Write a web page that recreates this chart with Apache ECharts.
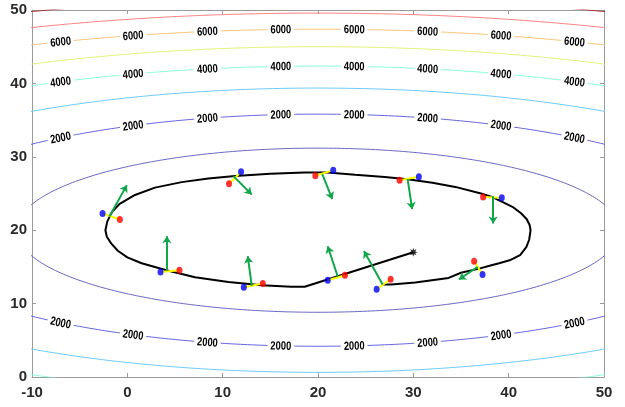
<!DOCTYPE html>
<html><head><meta charset="utf-8">
<script src="https://cdn.jsdelivr.net/npm/echarts@6/dist/echarts.min.js"></script>
<style>html,body{margin:0;padding:0;background:#fff}#c{width:625px;height:407px}</style>
</head><body><div id="c"></div>
<script>
// ---- data ----
const xRange = [-10, 50];
const yRange = [0, 50];
const tickStep = 10;

// contour field: level = (x-cx)^2 + w*(y-cy)^2
const contourCenter = [20, 20];
const contourYWeight = 8;
const contourLevels = [1000, 2000, 3000, 4000, 5000, 6000, 7000, 8000];
const contourColors = ['#6666c4', '#6464e2', '#6ccaff', '#88ffd8', '#e4f27c', '#ffc47c', '#ff8282', '#a83434'];

const labelX = [-7.0, 0.6, 8.4, 16.1, 23.8, 31.5, 39.2, 46.9];
const topLabelLevels = [2000, 4000, 6000];
const bottomLabelLevels = [2000];

const trajectory = [
  [30, 17], [18.6, 12.3], [17.2, 12.3], [14.1, 12.5], [10.6, 12.95], [7.1, 13.6], [4.1, 14.55],
  [1.5, 15.5], [0, 16.3], [-1, 17.2], [-1.7, 18.2], [-2.15, 19.1], [-2.3, 20.0], [-2.1, 21.2],
  [-1.6, 22.5], [-0.8, 23.6], [0.8, 24.8], [2.9, 25.8], [5.7, 26.55], [8.5, 27.05], [11.3, 27.4],
  [15, 27.7], [18.6, 27.85], [21, 27.85], [23.9, 27.55], [27, 27.25], [29.4, 26.95], [32, 26.45],
  [34.4, 25.9], [37.1, 25.0], [38.4, 24.45], [39.6, 23.7], [40.5, 23.1], [41.3, 22.3], [41.9, 21.5],
  [42.2, 20.7], [42.3, 20.0], [42.15, 18.7], [41.85, 17.7], [41.2, 16.6], [40.1, 15.9], [39, 15.5],
  [38, 15.15], [37, 14.8], [35, 14.2], [33.7, 13.5], [30.2, 12.87], [27.7, 12.6], [26.8, 12.6]
];
const startPoint = [30, 17];

const bluePoints = [
  [-2.60, 22.28], [3.48, 14.32], [12.22, 12.23], [11.93, 27.95], [21.60, 28.18],
  [30.58, 27.27], [39.28, 24.41], [37.26, 13.96], [21.02, 13.19], [26.15, 11.96]
];
const redPoints = [
  [-0.78, 21.46], [5.47, 14.55], [14.21, 12.74], [10.67, 26.32], [19.72, 27.41],
  [28.56, 26.82], [37.32, 24.54], [36.38, 15.78], [22.83, 13.87], [27.62, 13.32]
];
const arrowStart = [
  [-1.90, 21.84], [4.15, 14.55], [13.05, 12.41], [11.13, 27.37], [20.45, 27.64],
  [29.40, 26.96], [38.37, 24.64], [36.74, 15.0], [22.07, 13.69], [26.78, 12.60]
];
const arrowEnd = [
  [-0.05, 26.14], [4.15, 19.18], [12.63, 16.46], [13.05, 24.87], [21.50, 24.23],
  [29.88, 22.87], [38.37, 20.92], [34.78, 13.28], [21.02, 17.82], [24.82, 17.18]
];

// ---- helpers ----
const FONT = '"Liberation Sans", Arial, sans-serif';
function ellipse(level) {
  const rx = Math.sqrt(level), ry = Math.sqrt(level / contourYWeight);
  const pts = [];
  for (let i = 0; i <= 720; i++) {
    const t = i / 720 * 2 * Math.PI;
    pts.push([contourCenter[0] + rx * Math.cos(t), contourCenter[1] + ry * Math.sin(t)]);
  }
  return pts;
}
function levelY(level, x, sign) {
  const dx = x - contourCenter[0];
  return contourCenter[1] + sign * Math.sqrt((level - dx * dx) / contourYWeight);
}

const chart = echarts.init(document.getElementById('c'), null, {renderer: 'canvas'});

const axisCommon = {
  interval: tickStep,
  axisLine: {show: true, onZero: false, lineStyle: {color: '#9a9a9a', width: 1}},
  axisTick: {show: true, inside: true, length: 4, lineStyle: {color: '#9a9a9a'}},
  splitLine: {show: false}
};

const series = [];
contourLevels.forEach((lv, i) => {
  series.push({
    type: 'line', data: ellipse(lv), showSymbol: false, symbol: 'none', clip: true,
    lineStyle: {color: contourColors[i], width: 1}, z: 1, silent: true
  });
});

// contour labels: [x, y, level, sign]
const labelItems = [];
topLabelLevels.forEach(lv => labelX.forEach(x => labelItems.push([x, levelY(lv, x, 1), lv, 1])));
bottomLabelLevels.forEach(lv => labelX.forEach(x => labelItems.push([x, levelY(lv, x, -1), lv, -1])));

series.push({
  type: 'custom', z: 3, silent: true, data: labelItems,
  renderItem: function (params, api) {
    const x = api.value(0), y = api.value(1), lv = api.value(2), sg = api.value(3);
    const eps = 0.5;
    const p = api.coord([x, y]);
    const p1 = api.coord([x - eps, levelY(lv, x - eps, sg)]);
    const p2 = api.coord([x + eps, levelY(lv, x + eps, sg)]);
    const rot = Math.atan2(-(p2[1] - p1[1]), p2[0] - p1[0]);
    return {
      type: 'group', x: p[0], y: p[1], rotation: rot, scaleX: 0.78,
      children: [
        {type: 'rect', shape: {x: -17, y: -5.5, width: 34, height: 11}, style: {fill: '#fff'}},
        {type: 'text', style: {text: String(lv), x: 0, y: 0.5, align: 'center', verticalAlign: 'middle',
          font: 'bold 12px "Liberation Sans", Arial, sans-serif', fill: '#000'}}
      ]
    };
  }
});

series.push({
  type: 'line', data: trajectory, showSymbol: false, symbol: 'none', z: 4,
  lineStyle: {color: '#000', width: 2}, silent: true
});
series.push({
  type: 'lines', coordinateSystem: 'cartesian2d', z: 5, silent: true,
  data: bluePoints.map((b, i) => ({coords: [b, redPoints[i]]})),
  lineStyle: {color: '#ffff00', width: 2, opacity: 1}
});
series.push({
  type: 'scatter', data: bluePoints, symbol: 'circle', symbolSize: [6, 7], z: 6,
  itemStyle: {color: '#0000ff'}, silent: true
});
series.push({
  type: 'scatter', data: redPoints, symbol: 'circle', symbolSize: [6, 7], z: 6,
  itemStyle: {color: '#ff0000'}, silent: true
});
series.push({
  type: 'lines', coordinateSystem: 'cartesian2d', z: 7, silent: true,
  symbol: ['none', 'arrow'], symbolSize: [5, 7],
  data: arrowStart.map((s, i) => ({coords: [s, arrowEnd[i]]})),
  lineStyle: {color: '#12a64a', width: 2, opacity: 1}
});
series.push({
  type: 'scatter', data: [startPoint], z: 8, silent: true, symbolSize: 9,
  symbol: 'path://M0,-5 L0.9,-2.2 L3.5,-3.5 L2.2,-0.9 L5,0 L2.2,0.9 L3.5,3.5 L0.9,2.2 L0,5 L-0.9,2.2 L-3.5,3.5 L-2.2,0.9 L-5,0 L-2.2,-0.9 L-3.5,-3.5 L-0.9,-2.2 Z',
  itemStyle: {color: '#000'}
});

const option = {
  animation: false,
  backgroundColor: '#fff',
  grid: {left: 32, right: 21, top: 10, bottom: 30, containLabel: false},
  xAxis: [
    Object.assign({}, axisCommon, {type: 'value', position: 'bottom', min: xRange[0], max: xRange[1],
      axisLabel: {show: true, margin: 8, fontFamily: FONT, fontWeight: 'bold', fontSize: 15, color: '#2a2a2a'}}),
    Object.assign({}, axisCommon, {type: 'value', position: 'top', min: xRange[0], max: xRange[1],
      axisLabel: {show: false}})
  ],
  yAxis: [
    Object.assign({}, axisCommon, {type: 'value', position: 'left', min: yRange[0], max: yRange[1],
      axisLabel: {show: true, margin: 5, fontFamily: FONT, fontWeight: 'bold', fontSize: 15, color: '#2a2a2a'}}),
    Object.assign({}, axisCommon, {type: 'value', position: 'right', min: yRange[0], max: yRange[1],
      axisLabel: {show: false}})
  ],
  series: series
};
chart.setOption(option);
</script>
</body></html>
